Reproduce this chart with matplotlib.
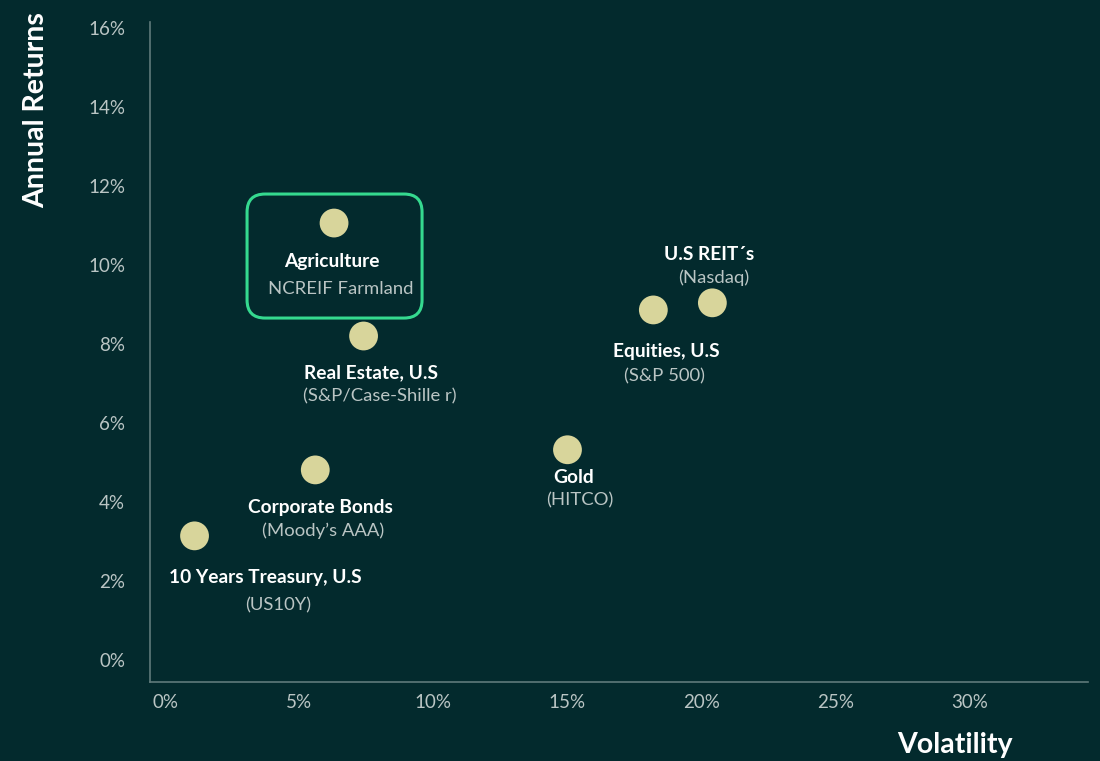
import matplotlib
matplotlib.use("Agg")
import matplotlib.pyplot as plt
from matplotlib.patches import FancyBboxPatch

# ----------------------------
# DATA
# ----------------------------

names = ["Agriculture", "Real Estate, U.S", "Corporate Bonds", "10 Years Treasury, U.S",
         "Gold", "Equities, U.S", "U.S REIT\u00b4s"]
sources = ["NCREIF Farmland", "(S&P/Case-Shille r)", "(Moody\u2019s AAA)", "(US10Y)",
           "(HITCO)", "(S&P 500)", "(Nasdaq)"]
volatility = [6.3, 7.4, 5.6, 1.1, 15.0, 18.2, 20.4]
returns = [11.06, 8.2, 4.81, 3.14, 5.32, 8.86, 9.04]

x_ticks = [0, 5, 10, 15, 20, 25, 30]
y_ticks = [0, 2, 4, 6, 8, 10, 12, 14, 16]

# label offsets in pixels (name, source)
name_off = [(-2, -38), (7, -37), (5, -38), (71, -42), (6, -28), (13, -42), (-3, 48)]
src_off = [(7, -66), (16, -60), (8, -61), (84, -70), (12, -51), (11, -66), (1, 25)]

# ----------------------------
# STYLE
# ----------------------------

BG = "#032a2d"
DOT = "#d8d59b"
SPINE = "#5f7a7a"
TICK = "#bac5c4"
GREEN = "#35d98f"

plt.rcParams["font.family"] = ["Lato", "DejaVu Sans"]

fig = plt.figure(figsize=(11, 7.61), dpi=100, facecolor=BG)
ax = fig.add_axes([150 / 1100, 79 / 761, 938 / 1100, 660 / 761])
ax.set_facecolor(BG)

ax.scatter(volatility, returns, s=430, color=DOT, edgecolors="none", zorder=3)

ax.set_xlim(-0.56, 34.4)
ax.set_ylim(-0.56, 16.15)

ax.set_xticks(x_ticks)
ax.set_xticklabels([f"{v}%" for v in x_ticks])
ax.set_yticks(y_ticks)
ax.set_yticklabels([f"{v}%" for v in y_ticks])
ax.tick_params(axis="both", length=0, colors=TICK, labelsize=13.5)
ax.tick_params(axis="x", pad=9)
ax.tick_params(axis="y", pad=18)

for side in ["top", "right"]:
    ax.spines[side].set_visible(False)
for side in ["left", "bottom"]:
    ax.spines[side].set_color(SPINE)
    ax.spines[side].set_linewidth(1.2)

# axis titles
fig.text(36 / 1100, 1 - 110 / 761, "Annual Returns", rotation=90, ha="center", va="center",
         color="white", fontsize=20.5, fontweight="bold")
fig.text(1013 / 1100, 1 - 745 / 761, "Volatility", ha="right", va="center",
         color="white", fontsize=20.5, fontweight="bold")

# labels
for i in range(len(names)):
    ax.annotate(names[i], (volatility[i], returns[i]), xytext=name_off[i],
                textcoords="offset pixels", ha="center", va="center",
                color="white", fontsize=13.8, fontweight="bold")
    ax.annotate(sources[i], (volatility[i], returns[i]), xytext=src_off[i],
                textcoords="offset pixels", ha="center", va="center",
                color=TICK, fontsize=13.3)

# highlight box around Agriculture
px, py = ax.transData.transform((volatility[0], returns[0]))
box = FancyBboxPatch((px - 87, py - 95), 175, 124,
                     boxstyle="round,pad=0,rounding_size=18",
                     transform=None, fill=False, edgecolor=GREEN, linewidth=2.2, zorder=4)
fig.patches.append(box)

fig.savefig("out.png", dpi=100, facecolor=BG)
